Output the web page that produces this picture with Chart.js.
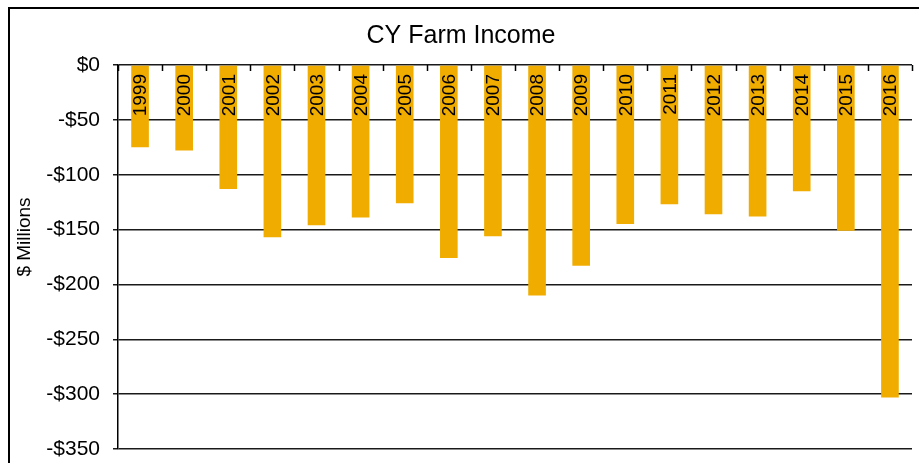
<!DOCTYPE html>
<html>
<head>
<meta charset="utf-8">
<script src="https://cdn.jsdelivr.net/npm/chart.js@4/dist/chart.umd.min.js"></script>
<style>
  html, body { margin: 0; padding: 0; background: #fff; overflow: hidden; }
  #wrap { position: relative; width: 919px; height: 463px; }
  #frame { position: absolute; left: 8px; top: 7px; width: 2000px; height: 2000px;
           border: 2px solid #000; pointer-events: none; }
  canvas { position: absolute; left: 0; top: 0; }
</style>
</head>
<body>
<div id="wrap">
  <canvas id="farmChart" width="919" height="463"></canvas>
  <div id="frame"></div>
</div>
<script>
const years = ['1999', '2000', '2001', '2002', '2003', '2004', '2005', '2006', '2007',
               '2008', '2009', '2010', '2011', '2012', '2013', '2014', '2015', '2016'];
const farmIncome = [-75, -78, -113, -157, -146, -139, -126, -176, -156,
                    -210, -183, -145, -127, -136, -138, -115, -151, -303];
const yTicks = [0, -50, -100, -150, -200, -250, -300, -350];

const FONT = 'Arial, "Liberation Sans", sans-serif';

// year labels inside the bars + small tick marks on the category axis
const insideLabels = {
    id: 'insideLabels',
    afterDatasetsDraw(chart) {
        const ctx = chart.ctx;
        const x = chart.scales.x;
        const top = chart.chartArea.top;
        const step = x.width / years.length;

        ctx.save();
        ctx.strokeStyle = '#000';
        ctx.lineWidth = 1.5;
        for (let i = 0; i <= years.length; i++) {
            const px = Math.round(x.left + i * step) + 0.5;
            ctx.beginPath();
            ctx.moveTo(px, top);
            ctx.lineTo(px, top + 6);
            ctx.stroke();
        }

        ctx.fillStyle = '#000';
        ctx.font = '19px ' + FONT;
        ctx.textAlign = 'right';
        ctx.textBaseline = 'middle';
        years.forEach((label, i) => {
            ctx.save();
            ctx.translate(x.getPixelForValue(i), top + 9);
            ctx.rotate(-Math.PI / 2);
            ctx.fillText(label, 0, 1);
            ctx.restore();
        });

        // axis title, placed where the original has it
        ctx.font = '19px ' + FONT;
        ctx.textAlign = 'center';
        ctx.translate(25, 237);
        ctx.rotate(-Math.PI / 2);
        ctx.fillText('$ Millions', 0, 0);
        ctx.restore();
    }
};

new Chart(document.getElementById('farmChart').getContext('2d'), {
    type: 'bar',
    data: {
        labels: years,
        datasets: [{
            label: 'CY Farm Income',
            data: farmIncome,
            backgroundColor: '#F0AD00',
            borderWidth: 0,
            barPercentage: 0.4,
            categoryPercentage: 1.0
        }]
    },
    options: {
        responsive: false,
        animation: false,
        layout: { padding: { left: 10, right: 7, top: 0, bottom: 14 } },
        plugins: {
            legend: { display: false },
            tooltip: { enabled: false },
            title: {
                display: true,
                text: 'CY Farm Income',
                color: '#000',
                font: { family: FONT, size: 25, weight: 'normal' },
                padding: { top: 21, bottom: 14 }
            }
        },
        scales: {
            x: {
                display: false,
                offset: true
            },
            y: {
                min: -350,
                max: 0,
                afterFit(scale) {
                    scale.width = 108;
                    scale.paddingTop = 0;
                    scale.paddingBottom = 0;
                },
                afterBuildTicks(scale) {
                    scale.ticks = yTicks.map(v => ({ value: v }));
                },
                border: { display: true, color: '#000', width: 1.5 },
                grid: {
                    color: '#1a1a1a',
                    lineWidth: 1.5,
                    drawTicks: true,
                    tickLength: 5
                },
                ticks: {
                    color: '#000',
                    padding: 13,
                    font: { family: FONT, size: 21 },
                    callback: v => v === 0 ? '$0' : '-$' + Math.abs(v)
                }
            }
        }
    },
    plugins: [insideLabels]
});
</script>
</body>
</html>
